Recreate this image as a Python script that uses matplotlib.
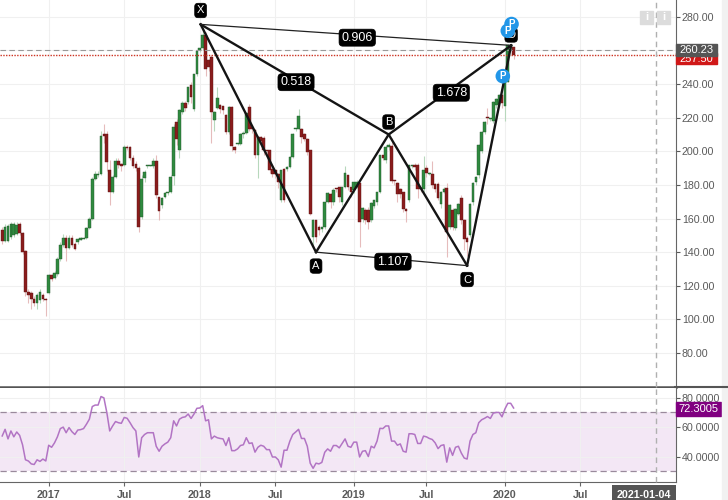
import pandas as pd
import matplotlib
matplotlib.use('Agg')
import matplotlib.pyplot as plt
import matplotlib.dates as mdates
from matplotlib.patches import Rectangle

plt.rcParams['font.family'] = ['Liberation Sans', 'DejaVu Sans']

# weekly candles
first_week = '2016-09-12'
opens = [153,146.7,146.7,149,150,151,156.6,151.5,140.5,116.3,
         115.7,112.3,109.8,111.3,114.3,112.3,115.9,126.2,124.8,127.2,
         136.1,144.1,148.7,142.7,148.7,145.1,146.1,147.1,148.1,148.7,
         154.6,160,183.8,186,186.3,210,210.5,188.7,175.8,184.8,
         194.3,192.3,191.7,202.6,202.6,196.3,192.7,190.1,161,184.4,
         191.3,191.5,191.3,194.3,172.9,167.9,172.9,175.2,175.8,185.2,
         217.5,200.6,223.5,228.8,229.4,239.3,225.4,245.8,260.2,261.2,
         269.1,254.2,255.8,218.5,226,227.4,226.8,221.5,211.6,226.4,
         202.6,204.2,204.6,210.5,211,226.4,214.5,212.5,197.7,208.6,
         208.2,200.6,200.6,189.7,188.7,186.7,170.9,189.7,189.7,190.7,
         196.7,213,213.5,213.5,210.5,207.6,200.6,149,159,155,
         154,155,169.9,174.8,169.9,177.8,178.8,169.9,178.8,185.8,
         178.8,176.8,178.8,181.2,160,165.3,164.9,159,167.3,169.9,
         175.8,197.7,194.7,202.6,203,182.8,181.2,177.8,175.8,165.9,
         170.9,191.5,191.7,191.7,177.8,177.8,190.1,186.7,186.7,180.4,
         180.4,168.5,175.8,178.4,155,164.9,154.6,162.9,172.5,159,
         148.7,150,169.9,181.8,185.8,200.2,211.5,220.5,219.3,218.1,
         227.4,228.4,233.4,226.8,241.3,262,262]
closes = [146.7,155,155.4,156.6,156.6,156,151.5,140.1,116.3,114.3,
          112.3,109.8,114.3,116.3,112,111.3,126.2,124.2,127.6,136.1,
          144.1,148.7,142.7,148.7,144.1,142.1,148.1,148.5,148.7,154.6,
          160,183.8,186.3,186.7,209,209,193.7,175.8,184.8,194.3,
          191.7,191.1,202.6,202.2,196.3,191.1,190.1,155,183.8,187.5,
          191.7,191.7,194.3,173.9,164.5,172.5,175.2,175.8,184.8,214.5,
          207.6,224.4,228.8,226,238,232.4,245.8,259.8,261.2,269.1,
          249.2,250.2,223.5,223.5,232,225.4,224.4,211.6,226.4,203,
          201,204.6,210.5,211,222.5,213.5,213,197.7,208.6,206.2,
          200.6,200.2,188.7,186.7,186.7,181.8,188.7,170.9,190.7,196.7,
          210.5,213.5,220.9,208.6,207.6,199.6,163,159,149,153,
          155,169.9,175.2,169.9,177.2,177.4,172.9,178.8,187.1,178.8,
          175.8,181.8,181.8,158,166,159,158,169.5,170.9,175.8,
          197.7,196.3,202.6,203.6,182.4,182.2,174.4,174.4,165.9,164.5,
          191.7,191.7,190.7,177.8,177.4,189.1,187.1,187,179.8,177.8,
          172.5,175.8,177.8,152,167.9,155,165.9,168.5,159,148.1,
          146.1,168.9,181.2,184.8,203.6,211.5,217.5,219.9,219.5,229.4,
          231,233.4,228.8,241.3,263.1,263.5,257]
highs = [155,157,157,158,158,158,158,152,141,118,
         117,114,116,118,116,113,127,127,129,137,
         146,151,150,150,150,146,148,149,149,155,
         161,185,188,188,212,216,212,195,186,196,
         196,193,204,204,203,198,194,191,186,189,
         192,192,196,198,173,173,176,176,186,216,
         219,225,230,230,231,241,234,247,261,274,
         271,255,257,224,238,228,227,222,227,227,
         203,205,211,212,223,228,215,213,209,209,
         209,201,201,190,189,187,189,190,191,197,
         211,214,225,214,211,208,201,160,159,156,
         155,170,176,175,178,178,179,179,191,186,
         179,182,183,182,167,166,167,170,171,176,
         198,198,204,205,208,183,182,178,176,166,
         192,192,193,193,178.5,197,192,187.5,194,181,
         181.5,176.5,178.5,181,168.5,166,166.5,169,174,160,
         149.5,169.5,182,185.5,204.5,212,218,226,220,230,
         231.5,234,234,242,264,264,262]
lows = [145,146,146,148,149,150,150,139,114,110,
        106,108,106,110,111,102,115,123,124,126,
        135,143,135,142,143,141,145,147,148,148,
        154,159,183,185,186,205,188,168,175,184,
        190,188,191,201,195,190,188,152,160,182,
        190,191,190,172,159,166,172,174,175,180,
        204,196,222,224,228,229,224,245,259,260,
        245,248,205,212,225,223,222,210,210,200,
        199,204,204,208,210,212,211,196,184,205,
        198,199,187,185,184,178,170,170,188,190,
        196,212,213,205,206,198,162,144,146,150,
        152,154,169,166,168,176,170,168,178,177,
        173,175,178,143,158,157,154,158,166,168,
        175,195,193,201,181,180,170,172,164,158,
        170,190,189,172,176,176,185,186,178,176,
        171,166,175,137,154,153,153,162,157,141,
        138,149,168,180,184,199,210,216,218,217,
        226,227,226,218,241,260,255]
rsi = [54,58.5,52,57.4,53.4,56.7,54.4,48,37.8,37,
       35,34.6,37.8,36.7,38.3,37,47.7,46.3,49.3,53.4,
       59,60,56.2,59.7,56.9,55,58,58.3,59,62,
       65.4,74,75,75,80.8,79.9,70,57.4,60.8,63.8,
       63,62.6,66.6,66,63,59.7,57.4,39.7,52.8,55,
       56.2,56.2,56.2,47,43.6,47,48.6,49.8,52.8,64.3,
       60.8,65.4,66.6,67,68.9,65.9,68.9,72.8,73,74.6,
       64.3,65,52,53.9,52.8,52.3,52,47.5,52.8,44,
       44,45.2,47.5,48,52.8,48.9,49.3,43,46.3,47.7,
       47,44.7,44.7,39.7,39.7,37.8,32.8,44.3,44.3,50.5,
       55,56.7,58.5,52.3,52.3,47,35.5,32,35.5,35,
       36,42.9,45.2,43.6,47.5,47.5,45.9,48.9,52,47,
       46.3,49.8,49.8,39.7,43.6,44,40,47,45.9,50.5,
       59.2,59,60.8,60.8,50.5,50.5,47.7,48.6,43.6,43,
       55.5,55.5,55,48.9,48.9,53.9,53.4,52.3,51.6,49.3,
       45.4,47.5,48,36.2,45.9,40.8,46.3,47,42.4,39,
       38.3,50.5,55,56.2,63,65,66,67.2,65.9,69.5,
       70,70,67,72.3,76.2,76.2,73]

# harmonic pattern points
pattern_names = ['X', 'A', 'B', 'C', 'D']
pattern_dates = ['2018-01-03', '2018-10-08', '2019-04-01', '2019-10-07', '2020-01-21']
pattern_prices = [275.5, 140, 210, 132, 263]
ratio_labels = [('X', 'D', '0.906'), ('X', 'B', '0.518'), ('B', 'D', '1.678'), ('A', 'C', '1.107')]

price_ticks = [80, 100, 120, 140, 160, 180, 200, 220, 240, 260, 280]
rsi_ticks = [40, 60, 80]
date_ticks = ['2017-01-02', '2017-07-03', '2018-01-01', '2018-07-02', '2019-01-07', '2019-07-01', '2020-01-06', '2020-07-06']
date_labels = ['2017', 'Jul', '2018', 'Jul', '2019', 'Jul', '2020', 'Jul']
last_price = 260.23
prev_close = 257.5
last_rsi = 72.3005
cursor_date = '2021-01-04'
pivot_dates = ['2020-01-01', '2020-01-13', '2020-01-22']
pivot_prices = [244.7, 271.7, 275.7]

TEXT = '#5a5a5a'
GREEN = '#2f8a3f'
RED = '#8a1c1c'
W, H = 728, 500


def px_axes(fig, left, top, right, bottom):
    return fig.add_axes([left / W, 1 - bottom / H, (right - left) / W, (bottom - top) / H])


def draw_candles(ax, dates):
    for d, o, c, hi, lo in zip(dates, opens, closes, highs, lows):
        up = c >= o
        ax.vlines(d, lo, hi, color='#b7d8bc' if up else '#e6bcbc', lw=0.8, zorder=2)
        ax.bar(d, max(abs(c - o), 0.6), bottom=min(o, c), width=6.4,
               color=GREEN if up else RED, lw=0.3, edgecolor='#23562c' if up else '#5c1414', zorder=3)


def draw_pattern(ax):
    pts = {n: (mdates.date2num(pd.Timestamp(d)), p) for n, d, p in zip(pattern_names, pattern_dates, pattern_prices)}
    # thick legs
    for a, b in [('X', 'A'), ('A', 'B'), ('B', 'C'), ('C', 'D'), ('X', 'B'), ('B', 'D')]:
        ax.plot([pts[a][0], pts[b][0]], [pts[a][1], pts[b][1]], color='#141414', lw=1.7, zorder=5)
    # thin ratio lines
    for a, b in [('X', 'D'), ('A', 'C')]:
        ax.plot([pts[a][0], pts[b][0]], [pts[a][1], pts[b][1]], color='#222222', lw=0.9, zorder=5)
    box = dict(boxstyle='round,pad=0.2,rounding_size=0.3', fc='black', ec='black', lw=0.5)
    for a, b, txt in ratio_labels:
        mid = ((pts[a][0] + pts[b][0]) / 2, (pts[a][1] + pts[b][1]) / 2)
        ax.annotate(txt, mid, xytext=(1, -2), textcoords='offset points', color='white', fontsize=9,
                    ha='center', va='center', bbox=box, zorder=7)
    offsets = {'X': 10, 'A': -10, 'B': 9, 'C': -10, 'D': 7.5}
    for n in pattern_names:
        ax.annotate(n, pts[n], xytext=(0, offsets[n]), textcoords='offset points', color='white',
                    fontsize=8, ha='center', va='center', bbox=box, zorder=7)


def right_tag(ax, y, height, color, txt, width=0.061, z=8):
    trans = ax.get_yaxis_transform()
    ax.add_patch(Rectangle((1, y - height / 2), width, height, transform=trans, color=color, clip_on=False, zorder=z))
    ax.text(1 + width / 2, y, txt, transform=trans, color='white', fontsize=8, ha='center', va='center', zorder=z + 0.5)


def main():
    fig = plt.figure(figsize=(W / 100, H / 100), dpi=100, facecolor='white')
    dates = pd.date_range(first_week, periods=len(opens), freq='7D')
    ticks = [pd.Timestamp(d) for d in date_ticks]
    base = pd.Timestamp('2017-01-02')
    x0 = base - pd.Timedelta(days=117.3)
    x1 = base + pd.Timedelta(days=1510)

    ax = px_axes(fig, 0, 0, 675.5, 387)
    rs = px_axes(fig, 0, 388, 675.5, 482)

    for a in (ax, rs):
        a.set_xlim(x0, x1)
        a.grid(True, color='#f0f0f0', lw=0.8)
        a.set_axisbelow(True)
        a.yaxis.tick_right()
        a.set_xticks(ticks)
        a.tick_params(axis='y', colors=TEXT, labelsize=7.7, length=3, width=0.8, pad=1.5)
        a.spines['left'].set_visible(False)
        a.spines['top'].set_visible(False)
        a.spines['right'].set_color('#666666')
        a.spines['bottom'].set_color('#666666')
        a.axvline(pd.Timestamp(cursor_date), color='#b0b0b0', lw=1, ls=(0, (4, 3)), zorder=6, clip_on=False)

    # price pane
    ax.set_ylim(59.8, 290)
    ax.set_yticks(price_ticks)
    ax.set_yticklabels(['%.2f' % t for t in price_ticks])
    ax.tick_params(axis='x', length=0, labelbottom=False)
    ax.spines['bottom'].set_linewidth(1.8)
    ax.spines['bottom'].set_color('#555555')
    draw_candles(ax, dates)
    ax.axhline(last_price, color='#999999', lw=0.8, ls=(0, (5, 3)), zorder=4)
    ax.axhline(prev_close, color='#cc3322', lw=1, ls=(0, (1, 1)), zorder=4)
    draw_pattern(ax)

    # pivot markers
    ax.scatter(pd.to_datetime(pivot_dates), pivot_prices, s=110, color='#2196e8', edgecolor='none', zorder=10)
    for d, p in zip(pivot_dates, pivot_prices):
        ax.text(pd.Timestamp(d), p, 'P', color='white', fontsize=7, fontweight='bold', ha='center', va='center', zorder=11)

    # the red tag sits under the grey one, only its lower edge shows
    right_tag(ax, 255.2, 6.6, '#d01818', '%.2f' % prev_close, z=7)
    right_tag(ax, last_price, 7, '#555555', '%.2f' % last_price, z=8)

    # the two buttons at the top right
    for left in (640, 657):
        fig.add_artist(Rectangle((left / W, 1 - 24 / H), 13 / W, 13 / H, color='#dcdcdc', transform=fig.transFigure))
        fig.text((left + 6.5) / W, 1 - 17.5 / H, 'i', color='white', fontsize=8, fontweight='bold', ha='center', va='center')

    # rsi pane
    rs.set_ylim(22.7, 86.6)
    rs.set_yticks(rsi_ticks)
    rs.set_yticklabels(['%.4f' % t for t in rsi_ticks])
    rs.axhspan(30, 70, color='#f3e7f5', lw=0, zorder=0)
    for level in (30, 70):
        rs.axhline(level, color='#9a8a9c', lw=0.9, ls=(0, (5, 3)), zorder=2)
    rs.plot(dates, rsi, color='#b274c4', lw=1.1, zorder=4)
    rs.set_xticklabels(date_labels, color=TEXT, fontsize=7.7, fontweight='bold')
    rs.tick_params(axis='x', length=3, width=0.8, color='#666666', pad=3)
    right_tag(rs, last_rsi, 9.4, '#800080', '%.4f' % last_rsi, width=0.068)

    # cursor date tag
    rs.annotate(cursor_date, (pd.Timestamp(cursor_date), 0), xycoords=('data', 'axes fraction'),
                xytext=(-8.6, -9.5), textcoords='offset points', color='white', fontsize=7.7, fontweight='bold',
                ha='center', va='center', bbox=dict(boxstyle='square,pad=0.45', fc='#555555', ec='none'),
                annotation_clip=False, zorder=9)

    # strip at the page edge, pane separator past the scale
    fig.add_artist(Rectangle((722 / W, 0), 6 / W, 1, color='#f1f1f1', transform=fig.transFigure))
    fig.add_artist(plt.Line2D([675 / W, 1], [1 - 387 / H, 1 - 387 / H], color='#555555', lw=1.5))

    fig.savefig('out.png', dpi=100)


main()
